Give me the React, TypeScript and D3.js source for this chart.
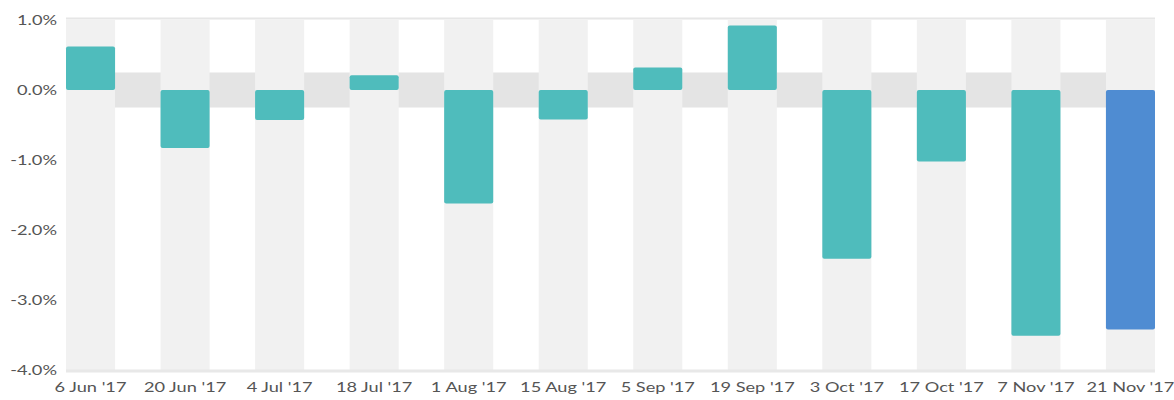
import * as d3 from "d3";

const dates = [
  "6 Jun '17",
  "20 Jun '17",
  "4 Jul '17",
  "18 Jul '17",
  "1 Aug '17",
  "15 Aug '17",
  "5 Sep '17",
  "19 Sep '17",
  "3 Oct '17",
  "17 Oct '17",
  "7 Nov '17",
  "21 Nov '17",
];
const returns = [0.62, -0.83, -0.43, 0.21, -1.62, -0.42, 0.32, 0.92, -2.41, -1.02, -3.51, -3.42];
const yTicks = [1, 0, -1, -2, -3, -4];
const zeroBand = [-0.25, 0.25];

const App = () => {
  const width = 1174,
    height = 400,
    marginLeft = 66,
    marginRight = 19,
    marginTop = 20,
    marginBottom = 30;

  const x = d3
    .scaleBand<string>()
    .domain(dates)
    .range([marginLeft, width - marginRight])
    .paddingInner(0.481)
    .paddingOuter(0);
  const y = d3.scaleLinear([-4, 1], [height - marginBottom, marginTop]);

  // the source image is stretched sideways, so the labels are too
  const stretch = 1.4;

  return (
    <svg
      width={width}
      height={height}
      style={{ position: "absolute", left: 0, top: 0, background: "#fff" }}
      fontFamily="Lato, sans-serif"
    >
      {/* zero band, visible in the gaps */}
      <rect
        x={marginLeft}
        y={y(zeroBand[1])}
        width={width - marginRight - marginLeft}
        height={y(zeroBand[0]) - y(zeroBand[1])}
        fill="#e4e4e4"
      />
      {/* column stripes behind bars */}
      {dates.map((d) => (
        <rect
          key={d}
          x={x(d)}
          y={y(1)}
          width={x.bandwidth()}
          height={y(-4) - y(1)}
          fill="#f1f1f1"
        />
      ))}
      <line
        x1={marginLeft}
        x2={width - marginRight}
        y1={y(1) - 1.5}
        y2={y(1) - 1.5}
        stroke="#e6e6e6"
        strokeWidth={2}
      />
      <line
        x1={marginLeft}
        x2={width - marginRight}
        y1={y(-4) + 1}
        y2={y(-4) + 1}
        stroke="#e8e8e8"
        strokeWidth={3}
      />
      {returns.map((v, i) => (
        <rect
          key={i}
          x={x(dates[i])}
          y={y(Math.max(0, v))}
          width={x.bandwidth()}
          height={Math.abs(y(v) - y(0))}
          rx={2}
          fill={i === returns.length - 1 ? "#4f8cd2" : "#4fbcbc"}
        />
      ))}
      {yTicks.map((t) => (
        <text
          key={t}
          transform={`translate(57,${y(t)}) scale(${stretch},1)`}
          dy="0.35em"
          textAnchor="end"
          fontSize={13}
          fill="#555"
        >
          {t.toFixed(1) + "%"}
        </text>
      ))}
      {dates.map((d) => (
        <text
          key={d}
          transform={`translate(${(x(d) ?? 0) + x.bandwidth() / 2},${height - 8}) scale(${stretch},1)`}
          textAnchor="middle"
          fontSize={13}
          fill="#555"
        >
          {d}
        </text>
      ))}
    </svg>
  );
};

export default App;
